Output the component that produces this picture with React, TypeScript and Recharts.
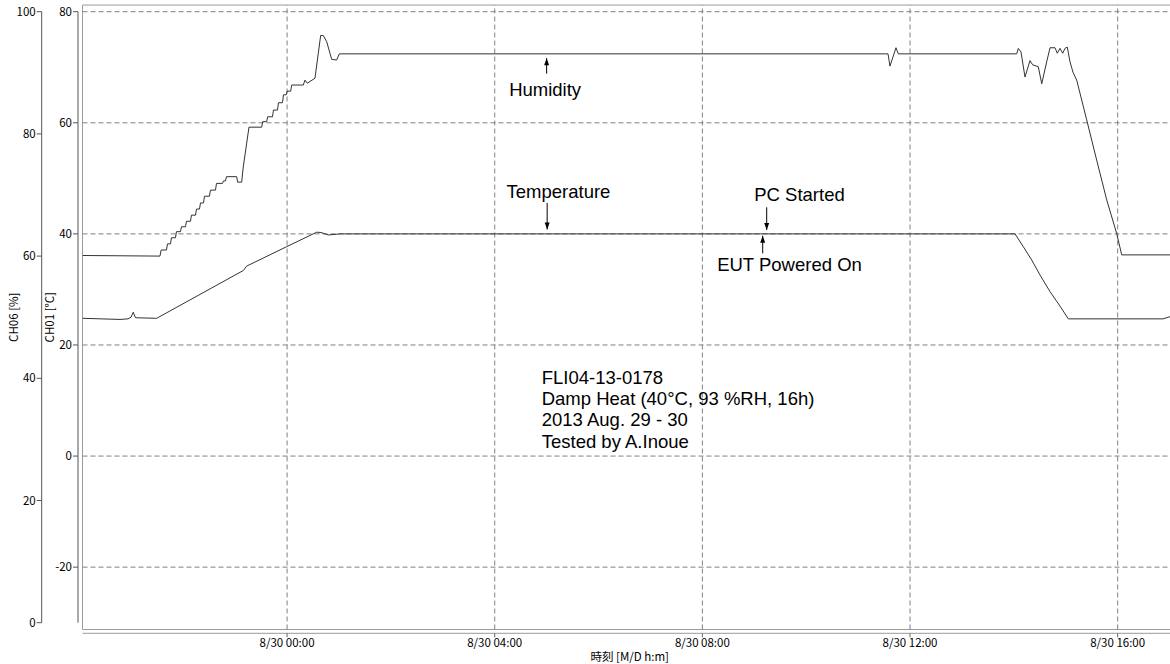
import React from 'react';
import {
  LineChart,
  Line,
  XAxis,
  YAxis,
  ReferenceLine,
  ReferenceArea,
  ReferenceDot,
} from 'recharts';

// ---- axes ----
const TIME_START = -3.941; // hours relative to 8/30 00:00
const TIME_END = 17.143;
const timeTicks = [0, 4, 8, 12, 16];
const timeTickLabels = ['8/30 00:00', '8/30 04:00', '8/30 08:00', '8/30 12:00', '8/30 16:00'];
const humidityTicks = [0, 20, 40, 60, 80, 100];
const temperatureTicks = [-20, 0, 20, 40, 60, 80];
const HUMIDITY_DOMAIN: [number, number] = [0, 100];
const TEMPERATURE_DOMAIN: [number, number] = [-30, 80];
const FRAME_TOP = 81.2; // temperature units, frame above the 80 line
const FRAME_BOTTOM = -31.22;

// ---- humidity CH06 [%] ----
const humidityTimes = [
  -3.941, -2.449, -2.425, -2.323, -2.304, -2.246, -2.227, -2.15, -2.131, -2.054, -2.034, -1.957,
  -1.938, -1.861, -1.842, -1.765, -1.745, -1.688, -1.668, -1.61, -1.591, -1.495, -1.476, -1.379,
  -1.36, -1.244, -1.225, -1.187, -1.167, -0.971, -0.952, -0.875, -0.844, -0.778, -0.734, -0.489,
  -0.47, -0.393, -0.374, -0.281, -0.262, -0.185, -0.166, -0.089, -0.069, -0.017, 0.002, 0.069,
  0.089, 0.312, 0.345, 0.389, 0.537, 0.601, 0.647, 0.697, 0.763, 0.859, 0.955, 1.006, 11.576,
  11.614, 11.73, 11.774, 14.055, 14.086, 14.138, 14.215, 14.311, 14.363, 14.471, 14.537, 14.633,
  14.697, 14.793, 14.837, 14.889, 14.941, 14.985, 15.03, 15.082, 15.139, 15.211, 15.403, 15.596,
  15.789, 15.981, 16.078, 17.143,
];
const humidityValues = [
  60.1, 60.0, 61.0, 61.0, 62.0, 62.0, 63.0, 63.0, 64.0, 64.0, 64.8, 64.8, 65.7, 65.7, 66.7, 66.7,
  67.7, 67.7, 68.7, 68.7, 69.8, 69.8, 70.8, 70.8, 71.9, 71.9, 72.3, 72.3, 73.0, 73.0, 72.1, 72.1,
  74.6, 78.5, 81.1, 81.1, 82.0, 82.0, 82.8, 82.8, 83.9, 83.9, 85.1, 85.1, 86.4, 86.4, 87.0, 87.0,
  88.0, 88.0, 88.8, 88.3, 89.1, 93.2, 96.1, 96.1, 95.1, 92.2, 92.1, 93.1, 93.1, 91.1, 94.1, 93.1,
  93.1, 94.0, 93.4, 89.3, 92.0, 91.3, 91.0, 88.2, 91.8, 94.1, 94.1, 93.2, 94.0, 93.2, 94.0, 94.2,
  91.8, 90.1, 88.8, 82.3, 75.7, 69.2, 63.7, 60.2, 60.2,
];

// ---- temperature CH01 [°C] ----
const temperatureTimes = [
  -3.941, -3.219, -3.065, -3.007, -2.963, -2.92, -2.512, -0.844, -0.778, -0.008, 0.57, 0.653, 0.794,
  1.02, 14.023, 14.182, 14.344, 14.504, 14.697, 14.889, 15.049, 16.874, 17.008, 17.143,
];
const temperatureValues = [
  24.8, 24.6, 24.7, 25.0, 25.9, 24.9, 24.8, 33.4, 34.2, 37.7, 40.3, 40.25, 39.8, 40.0, 40.0, 37.7,
  35.3, 32.6, 29.6, 27.0, 24.7, 24.7, 25.1, 25.1,
];

// ---- annotations ----
const annotationTexts = ['Humidity', 'Temperature', 'PC Started', 'EUT Powered On'];
const annotationTimes = [5.0, 5.01, 9.239, 9.162];
const annotationValues = [92.4, 40.8, 40.7, 39.67];
const annotationAxes = ['c_hum', 'b_temp', 'b_temp', 'b_temp'];
// arrow direction / arrow length / text offset (styling)
const annotationArrowUp = [true, false, false, true];
const annotationArrowLen = [15.5, 26.5, 22.7, 17.6];
const annotationTextDx = [-1.5, 11.3, 32.8, 26.8];
const annotationTextDy = [38, -31, -29, 35.3];

const infoLines = ['FLI04-13-0178', 'Damp Heat (40°C, 93 %RH, 16h)', '2013 Aug. 29 - 30', 'Tested by A.Inoue'];
const INFO_TIME = 4.905;
const INFO_TEMP = 12.97;

const humidityData = humidityTimes.map((t, i) => ({ t, v: humidityValues[i] }));
const temperatureData = temperatureTimes.map((t, i) => ({ t, v: temperatureValues[i] }));

const TICK_FONT = "'Noto Sans CJK JP', sans-serif";
const NOTE_FONT = "'Liberation Sans', Arial, sans-serif";
const tickStyle = { fontSize: 11.5, fill: '#000', fontFamily: TICK_FONT };
const GRID_COLOR = '#808080';
const GRID_DASH = '5 3';

function AxisTitle(props: any) {
  const { viewBox, text, inset } = props;
  if (!viewBox) return null;
  const cx = viewBox.x + inset;
  const cy = viewBox.y + viewBox.height / 2;
  return (
    <text
      x={cx}
      y={cy}
      transform={`rotate(-90 ${cx} ${cy})`}
      textAnchor="middle"
      dominantBaseline="central"
      fontSize={11.5}
      fontFamily={TICK_FONT}
      fill="#000"
    >
      {text}
    </text>
  );
}

function ArrowNote(props: any) {
  const { cx, cy, idx } = props;
  if (cx == null || cy == null) return null;
  const up = annotationArrowUp[idx];
  const len = annotationArrowLen[idx];
  const tail = up ? cy + len : cy - len;
  const head = up
    ? `M${cx},${cy} L${cx - 2.5},${cy + 7} L${cx + 2.5},${cy + 7} Z`
    : `M${cx},${cy} L${cx - 2.5},${cy - 7} L${cx + 2.5},${cy - 7} Z`;
  return (
    <g>
      <line x1={cx} y1={tail} x2={cx} y2={cy} stroke="#000" strokeWidth={1} />
      <path d={head} fill="#000" />
      <text
        x={cx + annotationTextDx[idx]}
        y={cy + annotationTextDy[idx]}
        textAnchor="middle"
        fontSize={18.5}
        fontFamily={NOTE_FONT}
        fill="#000"
      >
        {annotationTexts[idx]}
      </text>
    </g>
  );
}

function InfoBlock(props: any) {
  const { cx, cy } = props;
  if (cx == null || cy == null) return null;
  return (
    <text x={cx} y={cy} fontSize={18.5} fontFamily={NOTE_FONT} fill="#000">
      {infoLines.map((s, i) => (
        <tspan key={i} x={cx} dy={i === 0 ? 0 : 21.2}>
          {s}
        </tspan>
      ))}
    </text>
  );
}

export default function App() {
  return (
    <div
      style={{
        position: 'absolute',
        left: 0,
        top: 0,
        width: 1170,
        height: 664,
        overflow: 'hidden',
        background: '#fff',
      }}
    >
      <LineChart width={1177} height={664} margin={{ top: 11.7, right: 0, bottom: 0, left: 0 }}>
        <XAxis
          xAxisId="a_gap"
          type="number"
          domain={[0, 1]}
          height={10.6}
          axisLine={false}
          tickLine={false}
          tick={false}
        />
        <XAxis
          xAxisId="b_time"
          type="number"
          dataKey="t"
          domain={[TIME_START, TIME_END]}
          allowDataOverflow
          ticks={timeTicks}
          interval={0}
          tickFormatter={(v: number) => timeTickLabels[timeTicks.indexOf(v)] ?? ''}
          height={30.7}
          axisLine={{ stroke: '#9a9a9a' }}
          tickLine={{ stroke: '#666' }}
          tickSize={4}
          tickMargin={2}
          tick={tickStyle}
          label={{
            value: '時刻 [M/D h:m]',
            position: 'insideBottom',
            offset: 3,
            fontSize: 11.5,
            fill: '#000',
            fontFamily: TICK_FONT,
          }}
        />
        <YAxis
          yAxisId="a_gap"
          type="number"
          domain={[0, 1]}
          width={4.5}
          axisLine={false}
          tickLine={false}
          tick={false}
        />
        <YAxis
          yAxisId="b_temp"
          type="number"
          domain={TEMPERATURE_DOMAIN}
          allowDataOverflow
          ticks={temperatureTicks}
          interval={0}
          width={36.3}
          axisLine={{ stroke: '#555' }}
          tickLine={{ stroke: '#555' }}
          tickSize={5}
          tickMargin={1}
          tick={tickStyle}
          label={<AxisTitle text="CH01 [°C]" inset={7.3} />}
        />
        <YAxis
          yAxisId="c_hum"
          type="number"
          domain={HUMIDITY_DOMAIN}
          allowDataOverflow
          ticks={humidityTicks}
          interval={0}
          width={41.7}
          axisLine={{ stroke: '#555' }}
          tickLine={{ stroke: '#555' }}
          tickSize={5}
          tickMargin={1}
          tick={tickStyle}
          label={<AxisTitle text="CH06 [%]" inset={13} />}
        />
        <ReferenceArea
          xAxisId="b_time"
          yAxisId="b_temp"
          x1={TIME_START}
          x2={TIME_END}
          y1={FRAME_BOTTOM}
          y2={FRAME_TOP}
          fill="none"
          fillOpacity={0}
          stroke="#9a9a9a"
          strokeOpacity={1}
          ifOverflow="visible"
        />
        {temperatureTicks.map((v) => (
          <ReferenceLine
            key={`h${v}`}
            xAxisId="b_time"
            yAxisId="b_temp"
            y={v}
            stroke={GRID_COLOR}
            strokeDasharray={GRID_DASH}
            ifOverflow="visible"
          />
        ))}
        {timeTicks.map((t) => (
          <ReferenceLine
            key={`v${t}`}
            xAxisId="b_time"
            yAxisId="b_temp"
            segment={[
              { x: t, y: FRAME_BOTTOM },
              { x: t, y: FRAME_TOP },
            ]}
            stroke={GRID_COLOR}
            strokeDasharray={GRID_DASH}
            ifOverflow="visible"
          />
        ))}
        <Line
          xAxisId="b_time"
          yAxisId="c_hum"
          data={humidityData}
          dataKey="v"
          type="linear"
          dot={false}
          activeDot={false}
          stroke="#333"
          strokeWidth={1}
          isAnimationActive={false}
        />
        <Line
          xAxisId="b_time"
          yAxisId="b_temp"
          data={temperatureData}
          dataKey="v"
          type="linear"
          dot={false}
          activeDot={false}
          stroke="#333"
          strokeWidth={1}
          isAnimationActive={false}
        />
        {annotationTexts.map((s, i) => (
          <ReferenceDot
            key={s}
            xAxisId="b_time"
            yAxisId={annotationAxes[i]}
            x={annotationTimes[i]}
            y={annotationValues[i]}
            r={0}
            ifOverflow="visible"
            shape={(p: any) => <ArrowNote {...p} idx={i} />}
          />
        ))}
        <ReferenceDot
          xAxisId="b_time"
          yAxisId="b_temp"
          x={INFO_TIME}
          y={INFO_TEMP}
          r={0}
          ifOverflow="visible"
          shape={(p: any) => <InfoBlock {...p} />}
        />
      </LineChart>
    </div>
  );
}
